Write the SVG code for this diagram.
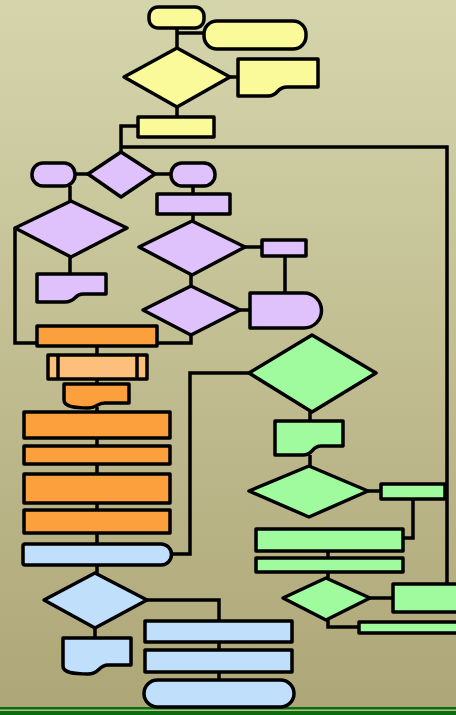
<svg xmlns="http://www.w3.org/2000/svg" width="456" height="715" viewBox="0 0 456 715">
<defs>
<linearGradient id="bg" x1="0" y1="0" x2="0" y2="1">
<stop offset="0" stop-color="#d5d5ac"/>
<stop offset="1" stop-color="#ada677"/>
</linearGradient>
</defs>
<style>
.s{stroke:#000;stroke-width:3.5;stroke-linejoin:round}
.y{fill:#fafa9a}.p{fill:#dfc2fb}.o{fill:#fca03e}.lo{fill:#fdc07c}.g{fill:#9ffb9d}.b{fill:#bfdffb}
.c{fill:none;stroke:#000;stroke-width:3.5}
</style>
<rect width="456" height="715" fill="url(#bg)"/>
<rect x="0" y="707" width="456" height="8" fill="#0b6d0b"/>
<rect x="0" y="709.5" width="456" height="1.5" fill="#b9bf9c"/>
<g id="connectors">
<path class="c" d="M177,28 V48 M177,33 H204 M230,77 H238 M177,107 V117 M137,126 H121 V152 M121,147 H447 V584"/>
<path class="c" d="M75,174 H88 M155,174 H171 M70,186 V201 M70,257 V274 M193,186 V194 M193,214 V221 M245,247 H262 M285,257 V293 M191,275 V286 M240,310 H250 M191,335 V343 H157 M15,228 V343 H37"/>
<path class="c" d="M97,346 V355 M97,379 V384 M97,407 V412 M97,438 V446 M97,464 V474 M97,503 V510 M97,533 V544 M172,554 H190 V373 H249"/>
<path class="c" d="M310,412 V421 M310,455 V466 M368,491 H381 M413,500 V538 H403 M328,551 V558 M328,572 V578 M370,598 H393 M328,620 V627 H359"/>
<path class="c" d="M97,565 V573 M147,600 H219 V621 M95,628 V638 M219,642 V650 M219,672 V680"/>
</g>
<g id="n-start"><rect class="s y" x="149" y="7" width="55" height="21" rx="9"/></g>
<g id="n-term2"><rect class="s y" x="204" y="21" width="102" height="28" rx="13"/></g>
<g id="n-dec1"><polygon class="s y" points="177,48 230,77 177,107 124,77"/></g>
<g id="n-doc1"><path class="s y" d="M238,59 H318 V87 H287 C276,87 279,96 268,96 H238 Z"/></g>
<g id="n-proc1"><rect class="s y" x="138" y="117" width="76" height="20"/></g>
<g id="n-pterm1"><rect class="s p" x="32" y="163" width="43" height="23" rx="11"/></g>
<g id="n-pdec1"><polygon class="s p" points="121,152 155,174 121,197 88,174"/></g>
<g id="n-pterm2"><rect class="s p" x="171" y="163" width="44" height="23" rx="11"/></g>
<g id="n-pdec2"><polygon class="s p" points="71,201 127,228 71,257 15,228"/></g>
<g id="n-pdoc"><path class="s p" d="M37,274 H106 V294 H83 C74,294 76,302 65,302 H37 Z"/></g>
<g id="n-pproc1"><rect class="s p" x="157" y="194" width="73" height="20"/></g>
<g id="n-pdec3"><polygon class="s p" points="192,221 245,247 192,275 139,247"/></g>
<g id="n-pproc2"><rect class="s p" x="262" y="240" width="44" height="16"/></g>
<g id="n-pdec4"><polygon class="s p" points="191,286 240,310 191,335 143,310"/></g>
<g id="n-pdelay"><path class="s p" d="M250,293 H304 A17.5,17.5 0 0 1 304,328 H250 Z"/></g>
<g id="n-o1"><rect class="s o" x="37" y="326" width="120" height="20"/></g>
<g id="n-o2"><rect class="s lo" x="48" y="355" width="99" height="24"/><path class="c" d="M58,355 V379 M137,355 V379"/></g>
<g id="n-o3"><path class="s o" d="M64,384 H129 V403 H105 C96,403 98,408 88,408 C76,408 64,407 64,400 Z"/></g>
<g id="n-o4"><rect class="s o" x="24" y="412" width="146" height="26"/></g>
<g id="n-o5"><rect class="s o" x="24" y="446" width="146" height="18"/></g>
<g id="n-o6"><rect class="s o" x="24" y="474" width="146" height="29"/></g>
<g id="n-o7"><rect class="s o" x="24" y="510" width="146" height="23"/></g>
<g id="n-bterm1"><path class="s b" d="M25,544 H161 A10.5,10.5 0 0 1 161,565 H25 Q23,565 23,563 V546 Q23,544 25,544 Z"/></g>
<g id="n-bdec"><polygon class="s b" points="95,573 147,600 95,628 44,600"/></g>
<g id="n-bdoc"><path class="s b" d="M63,638 H131 V665 H108 C98,665 100,674 88,674 C74,674 63,673 63,666 Z"/></g>
<g id="n-bproc1"><rect class="s b" x="145" y="621" width="147" height="21"/></g>
<g id="n-bproc2"><rect class="s b" x="145" y="650" width="147" height="22"/></g>
<g id="n-bterm2"><rect class="s b" x="144" y="680" width="150" height="27" rx="13.5"/></g>
<g id="n-gdec1"><polygon class="s g" points="312,335 376,373 312,412 249,373"/></g>
<g id="n-gdoc"><path class="s g" d="M275,421 H343 V446 H321 C311,446 314,455 303,455 H275 Z"/></g>
<g id="n-gdec2"><polygon class="s g" points="309,466 368,491 309,517 249,491"/></g>
<g id="n-gproc1"><rect class="s g" x="381" y="484" width="64" height="15"/></g>
<g id="n-gproc2"><rect class="s g" x="256" y="529" width="147" height="22"/></g>
<g id="n-gproc3"><rect class="s g" x="256" y="558" width="147" height="14"/></g>
<g id="n-gdec3"><polygon class="s g" points="326,578 370,598 326,620 283,598"/></g>
<g id="n-gproc4"><rect class="s g" x="393" y="584" width="70" height="28"/></g>
<g id="n-gproc5"><rect class="s g" x="359" y="622" width="104" height="11"/></g>
</svg>
